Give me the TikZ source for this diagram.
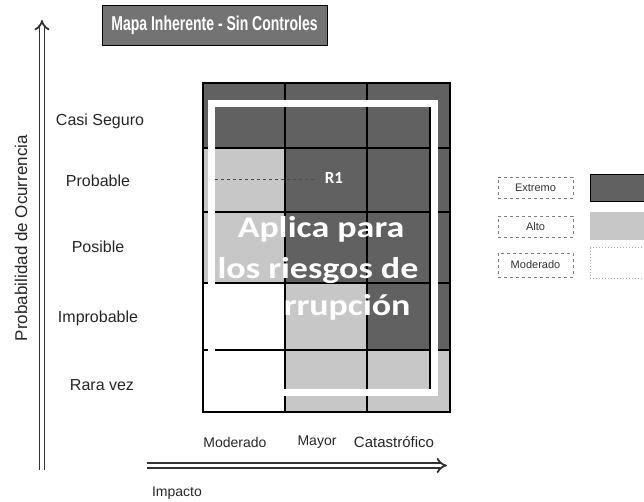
\documentclass[tikz,border=0pt]{standalone}
\usepackage{fontspec}
\setmainfont{Liberation Sans}
\newfontfamily\calib{Carlito}
\usetikzlibrary{arrows,arrows.meta,positioning}
\definecolor{extremo}{gray}{0.38}
\definecolor{alto}{gray}{0.78}
\definecolor{banda}{gray}{0.45}
\begin{document}
\begin{tikzpicture}[x=1pt,y=-1pt]
                    \tikzstyle{every node}+=[inner sep=0pt]
                    \tikzstyle{lbl}=[font=\fontsize{14}{16}\selectfont, text=black!85]
                    \tikzstyle{fila}=[font=\fontsize{16}{18}\selectfont, text=black!85]
                    \tikzstyle{eje}=[line width=1.8pt, double=white, double distance=3.2pt, -{Implies[scale=1.2]}, black!80]
                    \tikzstyle{grande}=[font=\calib\bfseries\fontsize{30}{32}\selectfont, text=white, anchor=base]
                    \tikzstyle{leyenda}=[draw=gray, dashed, minimum width=75pt, font=\fontsize{11}{12}\selectfont, text=black!80]
                    \useasboundingbox (0,0) rectangle (644,502);
                    \node (titulo) [fill=banda, draw=black, minimum width=225pt, minimum height=40pt] at (214.5,25)
                        {\scalebox{0.7}[1]{\textcolor{white}{\bfseries\fontsize{20}{22}\selectfont Mapa Inherente - Sin Controles}}};
                    \coordinate (yfin) at (42,470);
                    \coordinate (ypunta) at (42,20);
                    \draw [eje] (yfin) -- (ypunta);
                    \node (probabilidad) [fila, font=\fontsize{17}{18}\selectfont, rotate=90] at (21,238) {Probabilidad de Ocurrencia};
                    \coordinate (xini) at (147,465.5);
                    \coordinate (xpunta) at (447,465.5);
                    \draw [eje] (xini) -- (xpunta);
                    \node (impacto) [lbl] at (177,493) {Impacto};
                    \node (casiseguro) [fila] at (100,121) {Casi Seguro};
                    \node (probable) [fila] at (98,181) {Probable};
                    \node (posible) [fila] at (98,247) {Posible};
                    \node (improbable) [fila] at (98,318) {Improbable};
                    \node (raravez) [fila] at (102,385) {Rara vez};
                    \node (moderado) [lbl] at (235,442) {Moderado};
                    \node (mayor) [lbl] at (317,442) {Mayor};
                    \node (catastrofico) [lbl, font=\fontsize{15}{16}\selectfont] at (394,442) {Catastrófico};
                    \fill [extremo] (203,83) rectangle (450,148);
                    \fill [alto] (203,148) rectangle (285,283);
                    \fill [extremo] (285,148) rectangle (450,283);
                    \fill [white] (203,283) rectangle (285,412);
                    \fill [alto] (285,283) rectangle (367,412);
                    \fill [extremo] (367,283) rectangle (450,350);
                    \fill [alto] (367,350) rectangle (450,412);
                    \draw [black, line width=1.5pt] (203,83) rectangle (450,412);
                    \draw [black, line width=1.5pt] (285,83) -- (285,412);
                    \draw [black, line width=1.5pt] (367,83) -- (367,412);
                    \draw [black, line width=1.5pt] (203,148) -- (450,148);
                    \draw [black, line width=1.5pt] (203,212) -- (450,212);
                    \draw [black, line width=1.5pt] (203,283) -- (450,283);
                    \draw [black, line width=1.5pt] (203,350) -- (450,350);
                    \draw [black, line width=1.5pt] (430,100) -- (430,392);
                    \draw [white, line width=7pt] (211.5,103.5) rectangle (434,392);
                    \draw [black!70, dashed, line width=1pt] (215,180) -- (317,180);
                    \node (r1) [font=\calib\bfseries\fontsize{17}{18}\selectfont, text=white] at (334,178) {R1};
                    \node (linea1) [grande] at (321,238) {\scalebox{1.2}[1]{Aplica para}};
                    \node (linea2) [grande] at (318,278) {\scalebox{1.2}[1]{los riesgos de}};
                    \node (linea3) [grande] at (330,315) {\scalebox{1.2}[1]{corrupción}};
                    \node (extremo) [leyenda, minimum height=21pt] at (535.5,187.5) {Extremo};
                    \node (alto) [leyenda, minimum height=21pt] at (535.5,226.5) {Alto};
                    \node (moderadoley) [leyenda, minimum height=24pt] at (535.5,265) {Moderado};
                    \fill [extremo] (590,175) rectangle (644,202);
                    \draw [black, line width=1pt] (590,175) rectangle (646,202);
                    \fill [alto] (590,212) rectangle (644,240);
                    \draw [gray!60, dotted, line width=1pt] (590,248) rectangle (646,278);
\end{tikzpicture}
\end{document}
